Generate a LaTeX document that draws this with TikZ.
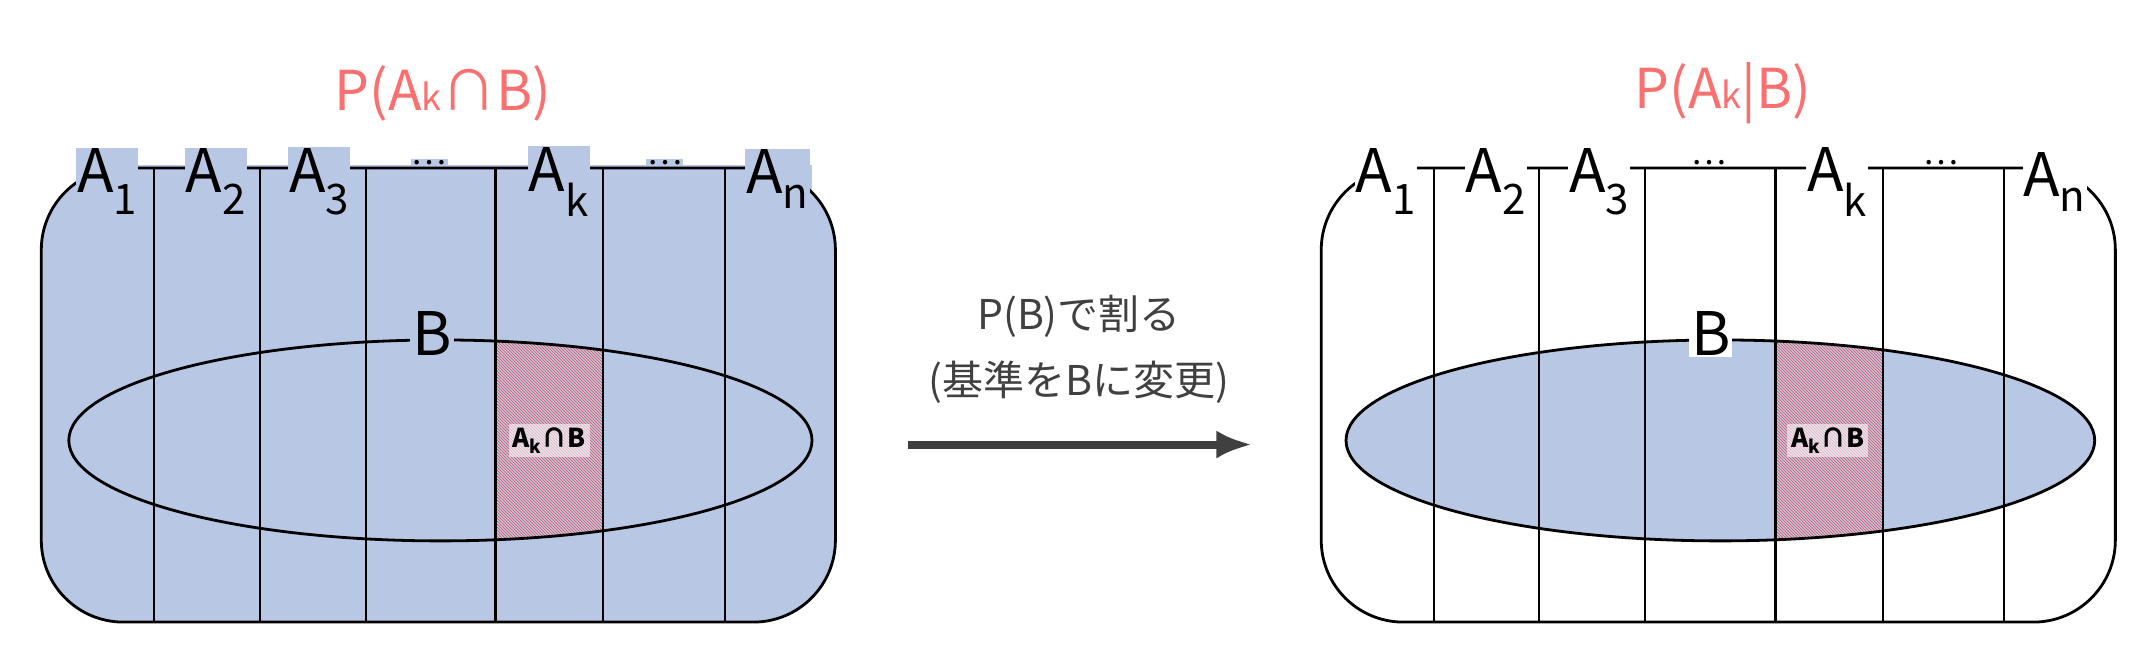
\documentclass[tikz,border=0pt]{standalone}
\usepackage{fontspec}
\setmainfont{Noto Sans CJK JP}
\usetikzlibrary{patterns,arrows.meta}
\definecolor{bluef}{RGB}{184,200,228}
\definecolor{redt}{RGB}{250,112,112}
\definecolor{arr}{RGB}{64,64,64}
\begin{document}
\begin{tikzpicture}[x=1.3763pt,y=-1.3763pt,
  frame/.style={draw,line width=2.8pt,rounded corners=82pt},
  sep/.style={line width=2.2pt},
  lab/.style={font=\fontsize{60}{60}\selectfont,inner sep=1pt},
  title/.style={font=\fontsize{55}{55}\selectfont,text=redt},
  ell/.style={draw,line width=2.8pt},
  inter/.style={fill=white,fill opacity=0.55,text opacity=1,font=\bfseries\fontsize{26}{26}\selectfont,inner sep=4pt}]
\useasboundingbox (0,0) rectangle (1560,481.7);
% ===== left
\fill[bluef,rounded corners=82pt] (30,122) rectangle (607,452);
\fill[bluef] (55,120) rectangle (590,180);
\begin{scope}
\clip (320,320) ellipse [x radius=270,y radius=73];
\fill[pattern=north west lines,pattern color=red!85] (360,200) rectangle (438,420);
\end{scope}
\draw[frame] (30,122) rectangle (607,452);
\foreach \x in {112,189,266,360,438,527} \draw[sep] (\x,122) -- (\x,452);
\draw[ell] (320,320) ellipse [x radius=270,y radius=73];
\node[lab,fill=bluef] (la1) at (78,132) {A\textsubscript{1}};
\node[lab,fill=bluef] (la2) at (157,132) {A\textsubscript{2}};
\node[lab,fill=bluef] (la3) at (232,132) {A\textsubscript{3}};
\node[lab,fill=bluef] (ld1) at (312,118) {\fontsize{33}{33}\selectfont…};
\node[lab,fill=bluef] (lak) at (406,132) {A\textsubscript{k}};
\node[lab,fill=bluef] (ld2) at (483,118) {\fontsize{33}{33}\selectfont…};
\node[lab,fill=bluef] (lan) at (565,130) {A\textsubscript{n}};
\node[lab,fill=bluef,inner sep=2pt] (lb) at (314,242) {B};
\node[inter] (lint) at (399,320) {A\textsubscript{k}∩B};
\node[title] (lt) at (322,68) {P(A{\fontsize{36}{36}\selectfont k}∩B)};
% ===== right
\fill[bluef] (1250,320) ellipse [x radius=272,y radius=73];
\begin{scope}
\clip (1250,320) ellipse [x radius=272,y radius=73];
\fill[pattern=north west lines,pattern color=red!85] (1290,200) rectangle (1368,420);
\end{scope}
\draw[frame] (960,122) rectangle (1537,452);
\foreach \x in {1042,1118,1195,1290,1368,1456} \draw[sep] (\x,122) -- (\x,452);
\draw[ell] (1250,320) ellipse [x radius=272,y radius=73];
\node[lab,fill=white] (ra1) at (1007,132) {A\textsubscript{1}};
\node[lab,fill=white] (ra2) at (1087,132) {A\textsubscript{2}};
\node[lab,fill=white] (ra3) at (1162,132) {A\textsubscript{3}};
\node[lab,fill=white] (rd1) at (1242,118) {\fontsize{33}{33}\selectfont…};
\node[lab,fill=white] (rak) at (1335,132) {A\textsubscript{k}};
\node[lab,fill=white] (rd2) at (1410,118) {\fontsize{33}{33}\selectfont…};
\node[lab,fill=white] (ran) at (1493,132) {A\textsubscript{n}};
\node[lab,fill=white,inner sep=2pt] (rb) at (1243,242) {B};
\node[inter] (rint) at (1328,320) {A\textsubscript{k}∩B};
\node[title] (rt) at (1252,68) {P(A{\fontsize{36}{36}\selectfont k}|B)};
% ===== arrow
\coordinate (s) at (660,323);
\coordinate (e) at (910,323);
\draw[arr,line width=8pt,-{Latex[length=36pt,width=28pt]}] (s) -- (e);
\node[font=\fontsize{41}{41}\selectfont,text=arr] (t1) at (784,230) {P(B)で割る};
\node[font=\fontsize{41}{41}\selectfont,text=arr] (t2) at (784,278) {(基準をBに変更)};
\end{tikzpicture}
\end{document}
